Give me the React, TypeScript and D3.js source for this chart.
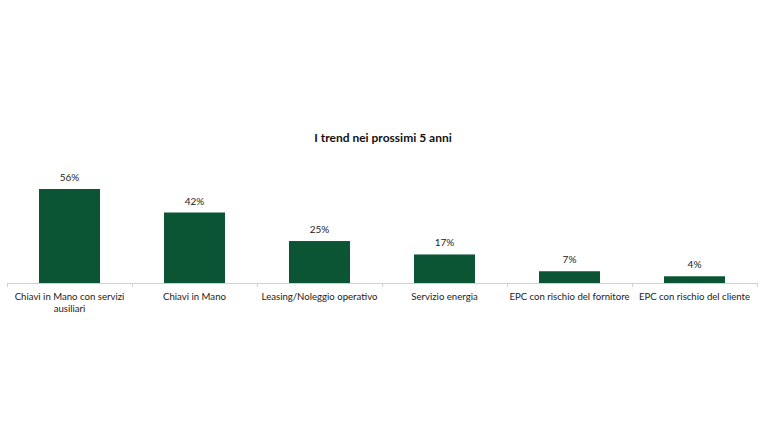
import * as d3 from 'd3';

const categories = [
  'Chiavi in Mano con servizi ausiliari',
  'Chiavi in Mano',
  'Leasing/Noleggio operativo',
  'Servizio energia',
  'EPC con rischio del fornitore',
  'EPC con rischio del cliente',
];
const values = [56, 42, 25, 17, 7, 4];
const chartTitle = 'I trend nei prossimi 5 anni';

const width = 770;
const height = 437;
const margin = { left: 7, right: 13, top: 189, bottom: 154 };
const barColor = '#0b5535';
const font = 'Lato, "Open Sans", sans-serif';

// split labels that don't fit the category band onto two lines
function wrapLabel(label: string, maxChars = 32): string[] {
  if (label.length <= maxChars) return [label];
  const words = label.split(' ');
  const lines: string[] = [];
  let cur = '';
  for (const w of words) {
    const next = cur ? cur + ' ' + w : w;
    if (next.length > 26 && cur) {
      lines.push(cur);
      cur = w;
    } else cur = next;
  }
  if (cur) lines.push(cur);
  return lines;
}

export default function App() {
  const axisY = height - margin.bottom;
  const x = d3
    .scaleBand<string>()
    .domain(categories)
    .range([margin.left, width - margin.right])
    .paddingInner(0.512)
    .paddingOuter(0.256);
  const band = d3
    .scaleBand<string>()
    .domain(categories)
    .range([margin.left, width - margin.right]);
  const y = d3.scaleLinear().domain([0, 56]).range([axisY, margin.top]);

  const tickXs = d3.range(categories.length + 1).map((i) => margin.left + i * band.step());

  return (
    <svg
      width={width}
      height={height}
      style={{ position: 'absolute', left: 0, top: 0, background: '#fff' }}
    >
      <text
        x={383}
        y={142}
        textAnchor="middle"
        fontFamily={font}
        fontWeight={700}
        fontSize={12}
        fill="#111"
      >
        {chartTitle}
      </text>

      {categories.map((c, i) => (
        <g key={c}>
          <rect
            x={x(c)}
            y={y(values[i])}
            width={x.bandwidth()}
            height={axisY - y(values[i])}
            fill={barColor}
          />
          <text
            x={(x(c) ?? 0) + x.bandwidth() / 2}
            y={y(values[i]) - 8}
            textAnchor="middle"
            fontFamily={font}
            fontSize={10}
            fill="#222"
          >
            {values[i]}%
          </text>
          {wrapLabel(c).map((line, j) => (
            <text
              key={j}
              x={(band(c) ?? 0) + band.bandwidth() / 2}
              y={axisY + 17 + j * 12}
              textAnchor="middle"
              fontFamily={font}
              fontSize={9.6}
              fill="#222"
            >
              {line}
            </text>
          ))}
        </g>
      ))}

      <line
        x1={margin.left}
        x2={width - margin.right}
        y1={axisY + 0.5}
        y2={axisY + 0.5}
        stroke="#d0d0d0"
        strokeWidth={1}
      />
      {tickXs.map((tx, i) => (
        <line
          key={i}
          x1={tx + 0.5}
          x2={tx + 0.5}
          y1={axisY}
          y2={axisY + 4}
          stroke="#d0d0d0"
        />
      ))}
    </svg>
  );
}
